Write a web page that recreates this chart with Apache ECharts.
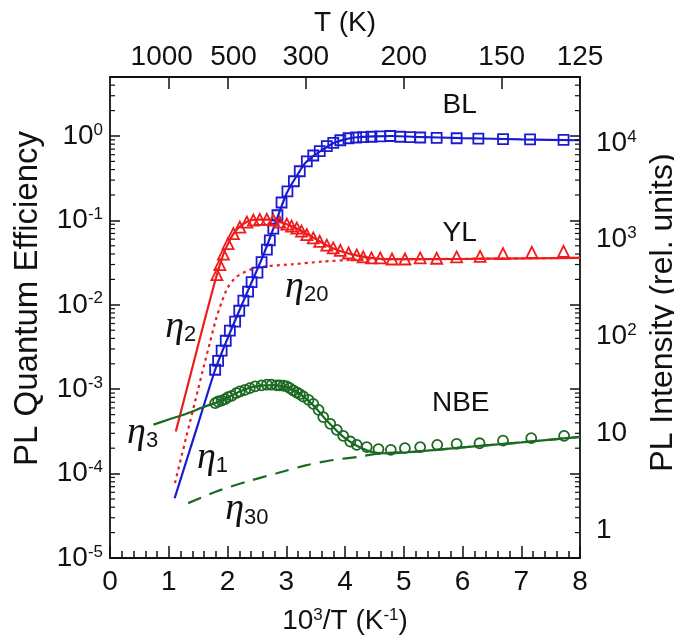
<!DOCTYPE html>
<html>
<head>
<meta charset="utf-8">
<script src="https://cdn.jsdelivr.net/npm/echarts@6/dist/echarts.min.js"></script>
<style>
  html, body { margin: 0; padding: 0; background: #fff; }
  #main { width: 674px; height: 641px; }
</style>
</head>
<body>
<div id="main"></div>
<script>
// measured points, x = 10^3/T (1/K), y = PL quantum efficiency
var blX = [1.79,1.84,1.90,1.97,2.04,2.13,2.20,2.27,2.35,2.41,2.51,2.58,2.67,2.72,2.78,2.85,2.92,3.02,3.13,3.23,3.35,3.46,3.57,3.69,3.80,3.92,4.06,4.19,4.31,4.45,4.60,4.77,4.94,5.11,5.28,5.56,5.90,6.27,6.69,7.15,7.72];
var blY = [1.70e-3,2.17e-3,2.86e-3,3.75e-3,4.93e-3,6.31e-3,8.5e-3,1.12e-2,1.43e-2,1.86e-2,2.40e-2,3.2e-2,4.5e-2,5.8e-2,8.0e-2,0.115,0.163,0.221,0.291,0.382,0.50,0.587,0.66,0.757,0.83,0.89,0.94,0.96,0.97,0.98,0.99,1.0,0.98,0.97,0.96,0.95,0.94,0.93,0.92,0.91,0.90];

var ylX = [1.82,1.87,1.93,2.01,2.10,2.21,2.33,2.44,2.55,2.67,2.78,2.89,3.01,3.09,3.18,3.26,3.35,3.46,3.57,3.69,3.80,3.92,4.06,4.20,4.31,4.45,4.60,4.80,5.02,5.28,5.56,5.90,6.30,6.69,7.18,7.72];
var ylY = [0.0228,0.0299,0.0398,0.0531,0.0697,0.0833,0.0955,0.101,0.103,0.103,0.101,0.0955,0.0904,0.0855,0.081,0.0746,0.0679,0.062,0.0565,0.0509,0.0472,0.0442,0.0411,0.039,0.0369,0.0359,0.0359,0.0349,0.0349,0.0359,0.0356,0.0369,0.0375,0.0404,0.0418,0.043];

var nbeX = [1.79,1.84,1.90,1.96,2.01,2.07,2.15,2.21,2.30,2.38,2.47,2.58,2.67,2.75,2.84,2.89,2.95,3.01,3.06,3.12,3.18,3.23,3.29,3.38,3.46,3.55,3.63,3.75,3.86,3.97,4.09,4.20,4.37,4.57,4.78,5.02,5.28,5.57,5.90,6.29,6.69,7.17,7.73];
var nbeY = [6.84e-4,7.15e-4,7.34e-4,7.63e-4,8.06e-4,8.35e-4,9.0e-4,9.4e-4,9.84e-4,1.03e-3,1.08e-3,1.11e-3,1.13e-3,1.13e-3,1.11e-3,1.11e-3,1.10e-3,1.08e-3,1.03e-3,9.66e-4,9.14e-4,8.75e-4,8.19e-4,7.48e-4,6.71e-4,5.70e-4,4.67e-4,3.89e-4,3.30e-4,2.80e-4,2.40e-4,2.19e-4,2.06e-4,1.95e-4,1.91e-4,2.0e-4,2.06e-4,2.19e-4,2.25e-4,2.29e-4,2.46e-4,2.63e-4,2.80e-4];

// model curves
var eta1X = [1.10,1.30,1.50,1.79,2.0,2.2,2.4,2.6,2.8,2.9,3.0,3.1,3.2,3.3,3.4,3.6,3.8,4.0,4.2,4.5,4.8,5.2,6.0,7.0,8.0];
var eta1Y = [5.1e-5,1.41e-4,3.89e-4,1.70e-3,3.98e-3,8.51e-3,0.0178,0.0372,0.0871,0.135,0.204,0.275,0.355,0.457,0.537,0.676,0.822,0.912,0.966,0.99,1.0,0.977,0.944,0.912,0.89];

var eta2X = [1.12,1.4,1.6,1.82,1.93,2.0,2.1,2.2,2.35,2.5,2.7,2.9,3.1,3.3,3.5,3.7,3.9,4.1,4.4,4.8,5.5,6.5,8.0];
var eta2Y = [3.16e-4,1.78e-3,6.17e-3,0.0229,0.0398,0.0513,0.0692,0.0832,0.0977,0.102,0.102,0.0955,0.0851,0.0724,0.0603,0.0501,0.0437,0.0398,0.0363,0.0347,0.0347,0.0352,0.036];

var eta20X = [1.106,1.3,1.5,1.6,1.7,1.8,1.9,2.0,2.15,2.4,2.7,3.1,3.6,4.2,5,6,7,8];
var eta20Y = [7.76e-5,2.75e-4,1.0e-3,1.91e-3,3.55e-3,6.61e-3,0.0107,0.0158,0.0214,0.0263,0.0288,0.0302,0.0324,0.0343,0.0347,0.0351,0.0355,0.036];

var eta3X = [0.74,1.0,1.3,1.6,1.8,2.0,2.2,2.4,2.6,2.8,3.0,3.1,3.2,3.3,3.4,3.5,3.6,3.7,3.8,3.9,4.0,4.2,4.5,4.8,5.2,6,7,8];
var eta3Y = [3.80e-4,4.37e-4,5.13e-4,6.17e-4,6.92e-4,7.94e-4,9.33e-4,1.05e-3,1.11e-3,1.12e-3,1.07e-3,1.0e-3,9.12e-4,8.13e-4,7.08e-4,6.03e-4,5.01e-4,4.17e-4,3.55e-4,3.02e-4,2.63e-4,2.14e-4,1.78e-4,1.74e-4,1.82e-4,2.04e-4,2.34e-4,2.72e-4];

var eta30X = [1.33,1.82,2.33,2.84,3.35,3.80,4.23,4.6,5.2,6,7,8];
var eta30Y = [4.47e-5,6.17e-5,8.04e-5,1.01e-4,1.26e-4,1.45e-4,1.58e-4,1.74e-4,1.82e-4,2.04e-4,2.34e-4,2.72e-4];

// top axis temperatures (K)
var topTemps = [1000, 500, 300, 200, 150, 125];

// in-plot labels, anchored at their left edge
var annoText = ['BL', 'YL', 'NBE', 'η2', 'η20', 'η3', 'η1', 'η30'];
var annoX = [5.66, 5.66, 5.48, 0.94, 2.98, 0.29, 1.48, 1.96];
var annoY = [2.3, 0.0697, 6.9e-4, 5.5e-3, 0.0163, 3.04e-4, 1.53e-4, 3.76e-5];

var BLUE = '#1a1ad2', RED = '#f01c1c', GREEN = '#1c6a22';
var FONT = 'Liberation Sans';
var INK = '#111';

function pairs(xs, ys) {
    return xs.map(function (x, i) { return [x, ys[i]]; });
}

function isPow10(v) {
    var l = Math.log(v) / Math.LN10;
    return Math.abs(l - Math.round(l)) < 1e-6;
}

// log-axis minor tick values (2..9 of every decade inside the range)
var minorVals = [];
for (var d = -5; d <= 0; d++) {
    for (var m = 2; m <= 9; m++) {
        var v = m * Math.pow(10, d);
        if (v < 5) minorVals.push(v);
    }
}

var supRich = {
    b: {fontSize: 28, fontFamily: FONT, color: INK},
    s: {fontSize: 17, fontFamily: FONT, color: INK, verticalAlign: 'top', padding: [0, 0, 12, 0]}
};

function powLabel(v, plain) {
    if (!isPow10(v)) return '';
    var e = Math.round(Math.log(v) / Math.LN10);
    if (plain && e === 0) return '{b|1}';
    if (plain && e === 1) return '{b|10}';
    return '{b|10}{s|' + e + '}';
}

var chart = echarts.init(document.getElementById('main'));

var inTick = function (len) {
    return {show: true, inside: true, length: len, lineStyle: {color: INK, width: 1.5}};
};
var frameLine = {show: true, onZero: false, lineStyle: {color: INK, width: 1.8}};

var option = {
    animation: false,
    backgroundColor: '#fff',
    grid: {left: 110, right: 94, top: 77, bottom: 83, containLabel: false, outerBoundsMode: 'none'},
    xAxis: [{
        type: 'value', min: 0, max: 8, interval: 1, position: 'bottom',
        axisLine: frameLine,
        axisTick: inTick(12),
        minorTick: {show: true, splitNumber: 5, length: 7, lineStyle: {color: INK, width: 1.5}},
        splitLine: {show: false},
        axisLabel: {fontSize: 28, fontFamily: FONT, color: INK, margin: 10},
        name: '{b|10}{s|3}{b|/T (K}{s|-1}{b|)}',
        nameLocation: 'middle', nameGap: 49,
        nameTextStyle: {rich: supRich}
    }, {
        type: 'value', min: 0, max: 8, position: 'top',
        axisLine: frameLine,
        axisTick: Object.assign(inTick(12), {customValues: topTemps.map(function (t) { return 1000 / t; })}),
        splitLine: {show: false},
        axisLabel: {
            margin: 6,
            customValues: topTemps.map(function (t) { return 1000 / t; }),
            formatter: function (v) {
                var t = Math.round(1000 / v);
                if (t === 1000) return '{l|' + t + '}';
                if (t === 500) return '{r|' + t + '}';
                return '{n|' + t + '}';
            },
            rich: {
                n: {fontSize: 28, fontFamily: FONT, color: INK},
                l: {fontSize: 28, fontFamily: FONT, color: INK, padding: [0, 14, 0, 0]},
                r: {fontSize: 28, fontFamily: FONT, color: INK, padding: [0, 0, 0, 12]}
            }
        },
        name: 'T (K)', nameLocation: 'middle', nameGap: 40,
        nameTextStyle: {fontSize: 28, fontFamily: FONT, color: INK}
    }],
    yAxis: [{
        type: 'log', min: 1e-5, max: 5, position: 'left',
        axisLine: frameLine,
        axisTick: inTick(10),
        splitLine: {show: false},
        axisLabel: {margin: 7, formatter: function (v) { return powLabel(v, false); }, rich: supRich},
        name: 'PL Quantum Efficiency', nameLocation: 'middle', nameRotate: 90, nameGap: 66,
        nameTextStyle: {fontSize: 33, fontFamily: FONT, color: INK, padding: [0, 0, 0, 38]}
    }, {
        type: 'log', min: 1e-5, max: 5, position: 'right',
        axisLine: frameLine,
        axisTick: inTick(10),
        splitLine: {show: false},
        axisLabel: {show: false}
    }, {
        // right-hand intensity scale (labels only)
        type: 'log', min: 0.514, max: 48080, position: 'right',
        axisLine: {show: false},
        axisTick: {show: false},
        splitLine: {show: false},
        axisLabel: {margin: 16, formatter: function (v) { return powLabel(v, true); }, rich: supRich},
        name: 'PL Intensity (rel. units)', nameLocation: 'middle', nameRotate: 90, nameGap: 43,
        nameTextStyle: {fontSize: 32, fontFamily: FONT, color: INK, padding: [0, 0, 0, 10]}
    }],
    series: [{
        // minor ticks of the log axes, drawn inward on both frame sides
        type: 'custom', name: 'minorTicks', silent: true, z: 6,
        data: minorVals.map(function (v) { return [0, v]; }),
        renderItem: function (params, api) {
            var cs = params.coordSys;
            var y = api.coord([0, api.value(1)])[1];
            var st = {stroke: INK, lineWidth: 1.2};
            return {
                type: 'group',
                children: [
                    {type: 'line', shape: {x1: cs.x, y1: y, x2: cs.x + 5, y2: y}, style: st},
                    {type: 'line', shape: {x1: cs.x + cs.width - 5, y1: y, x2: cs.x + cs.width, y2: y}, style: st}
                ]
            };
        }
    }, {
        type: 'line', name: 'η1', data: pairs(eta1X, eta1Y), showSymbol: false, smooth: 0.25,
        lineStyle: {color: BLUE, width: 2.2}, z: 3
    }, {
        type: 'line', name: 'η2', data: pairs(eta2X, eta2Y), showSymbol: false, smooth: 0.25,
        lineStyle: {color: RED, width: 2.2}, z: 3
    }, {
        type: 'line', name: 'η20', data: pairs(eta20X, eta20Y), showSymbol: false, smooth: 0.25,
        lineStyle: {color: RED, width: 2.2, type: [3, 4]}, z: 3
    }, {
        type: 'line', name: 'η3', data: pairs(eta3X, eta3Y), showSymbol: false, smooth: 0.25,
        lineStyle: {color: GREEN, width: 2.2}, z: 3
    }, {
        type: 'line', name: 'η30', data: pairs(eta30X, eta30Y), showSymbol: false, smooth: 0.25,
        lineStyle: {color: GREEN, width: 2.2, type: [14, 9]}, z: 3
    }, {
        type: 'scatter', name: 'BL', data: pairs(blX, blY), symbol: 'rect', symbolSize: 10,
        itemStyle: {color: 'transparent', borderColor: BLUE, borderWidth: 1.8, opacity: 1}, z: 4
    }, {
        type: 'scatter', name: 'YL', data: pairs(ylX, ylY), symbol: 'triangle', symbolSize: 11,
        itemStyle: {color: 'transparent', borderColor: RED, borderWidth: 1.8, opacity: 1}, z: 4
    }, {
        type: 'scatter', name: 'NBE', data: pairs(nbeX, nbeY), symbol: 'circle', symbolSize: 10,
        itemStyle: {color: 'transparent', borderColor: GREEN, borderWidth: 1.8, opacity: 1}, z: 4
    }, {
        type: 'scatter', name: 'labels', symbolSize: 0, silent: true, z: 5,
        itemStyle: {opacity: 1},
        data: annoText.map(function (t, i) { return {value: [annoX[i], annoY[i]], name: t}; }),
        label: {
            show: true, position: 'right', distance: 0, color: INK, opacity: 1,
            formatter: function (p) {
                var t = p.name;
                if (t.charAt(0) === 'η') return '{e|η}{s|' + t.slice(1) + '}';
                return '{t|' + t + '}';
            },
            rich: {
                t: {fontSize: 28, fontFamily: FONT, color: INK},
                e: {fontSize: 38, fontFamily: 'Liberation Serif', fontStyle: 'italic', color: INK},
                s: {fontSize: 22, fontFamily: FONT, color: INK, verticalAlign: 'bottom', padding: [14, 0, 0, 0]}
            }
        }
    }]
};

chart.setOption(option);
</script>
</body>
</html>
